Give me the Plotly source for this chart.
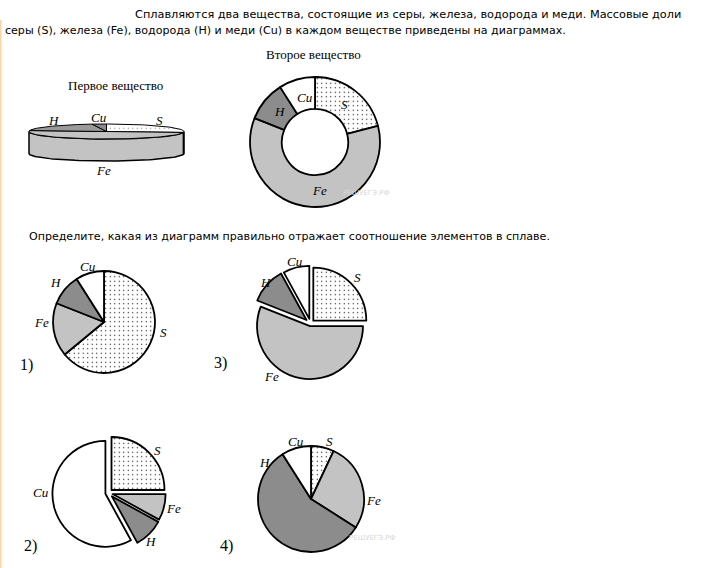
import math
import plotly.graph_objects as go

W, H = 705, 568

# ---- data ----
elements = ["S", "Fe", "H", "Cu"]
first_substance = [27, 50, 20, 3]        # 3D disc
second_substance = [21, 60, 10, 9]       # donut
option1 = [64, 17, 10, 9]
option2 = [25, 8, 9, 58]
option3 = [25, 56, 11, 8]
option4 = [7, 27, 57, 9]

text_line1 = "Сплавляются два вещества, состоящие из серы, железа, водорода и меди. Массовые доли"
text_line2 = "серы (S), железа (Fe), водорода (H) и меди (Cu) в каждом веществе приведены на диаграммах."
text_line3 = "Определите, какая из диаграмм правильно отражает соотношение элементов в сплаве."
title_first = "Первое вещество"
title_second = "Второе вещество"
option_labels = ["1)", "2)", "3)", "4)"]

# ---- styles ----
FILL = {"S": "white", "Fe": "#c3c3c3", "H": "#8c8c8c", "Cu": "white"}
PAT = {"S": ".", "Fe": "", "H": "", "Cu": ""}
FILL_DISC = {"S": "white", "Fe": "#c3c3c3", "H": "#9a9a9a", "Cu": "#8a8a8a"}
DOT = dict(fgcolor="black", size=4.5, solidity=0.06)

fig = go.Figure()


def pie(values, cx, cy, r, pull=None, hole=0.0):
    pull = pull or [0.0] * len(values)
    R = r * (1 + max(pull))
    fig.add_trace(go.Pie(
        labels=elements, values=values, sort=False, direction="clockwise",
        rotation=0, hole=hole, pull=pull,
        textinfo="none", hoverinfo="label+percent", showlegend=False,
        marker=dict(colors=[FILL[e] for e in elements],
                    line=dict(color="black", width=1.8),
                    pattern=dict(shape=[PAT[e] for e in elements], **DOT)),
        domain=dict(x=[(cx - R) / W, (cx + R) / W],
                    y=[1 - (cy + R) / H, 1 - (cy - R) / H]),
    ))


pie(second_substance, 315, 142, 65, hole=0.51)
pie(option1, 104, 322, 51)
pie(option3, 310.5, 323.5, 53, pull=[0.075, 0.05, 0.1, 0.09])
pie(option2, 108.5, 493, 53, pull=[0.08, 0.08, 0.09, 0.06])
pie(option4, 311, 499, 53)

# ---- 3D disc (first substance), drawn from the values ----
cx, cy, a, b, depth = 106.5, 131.5, 77.5, 7.5, 22


def pt(theta, dy=0.0):
    t = math.radians(theta)
    return cx + a * math.sin(t), cy - b * math.cos(t) + dy


total = sum(first_substance)
bounds = []
acc = 0.0
for v in first_substance:
    bounds.append((acc / total * 360, (acc + v) / total * 360))
    acc += v


def poly_trace(poly, e, lw):
    fig.add_trace(go.Scatter(
        x=[p[0] for p in poly], y=[p[1] for p in poly], mode="lines",
        fill="toself", fillcolor=FILL_DISC[e], line=dict(color="black", width=lw),
        fillpattern=dict(shape=PAT[e], bgcolor=FILL_DISC[e], **DOT) if PAT[e] else None,
        hoverinfo="skip", showlegend=False, xaxis="x", yaxis="y"))


# side wall (front half: theta 90..270)
for e, (t0, t1) in zip(elements, bounds):
    s0, s1 = max(t0, 90), min(t1, 270)
    if s1 <= s0:
        continue
    n = 60
    ts = [s0 + (s1 - s0) * i / n for i in range(n + 1)]
    top = [pt(t) for t in ts]
    bot = [pt(t, depth) for t in reversed(ts)]
    poly_trace(top + bot + [top[0]], e, 1.5)

# top face slices
for e, (t0, t1) in zip(elements, bounds):
    n = 60
    ts = [t0 + (t1 - t0) * i / n for i in range(n + 1)]
    poly_trace([(cx, cy)] + [pt(t) for t in ts] + [(cx, cy)], e, 1.0)

# ---- annotations ----
ann = []


def txt(x, y, s, size=13, family="Liberation Serif", italic=False, xanchor="center", color="black"):
    ann.append(dict(x=x, y=y, xref="x", yref="y", text=(f"<i>{s}</i>" if italic else s),
                    showarrow=False, xanchor=xanchor, yanchor="middle",
                    font=dict(family=family, size=size, color=color)))


txt(133, 14, text_line1, size=11.3, family="DejaVu Sans", xanchor="left")
txt(3, 30, text_line2, size=11.05, family="DejaVu Sans", xanchor="left")
txt(27, 236, text_line3, size=11.05, family="DejaVu Sans", xanchor="left")
txt(313, 54, title_second, size=13)
txt(115, 85, title_first, size=13)

# disc labels
txt(53, 120, "H", italic=True)
txt(99, 117, "Cu", italic=True)
txt(159, 120, "S", italic=True)
txt(103, 170, "Fe", italic=True)
# donut labels
txt(344, 104, "S", italic=True)
txt(305, 97, "Cu", italic=True)
txt(279, 111, "H", italic=True)
txt(319, 190, "Fe", italic=True)
# option 1
txt(88, 266, "Cu", italic=True)
txt(55, 282, "H", italic=True)
txt(41, 322, "Fe", italic=True)
txt(163, 332, "S", italic=True)
# option 3
txt(295, 261, "Cu", italic=True)
txt(265, 282, "H", italic=True)
txt(357, 277, "S", italic=True)
txt(271, 376, "Fe", italic=True)
# option 2
txt(157, 450, "S", italic=True)
txt(173, 508, "Fe", italic=True)
txt(150, 541, "H", italic=True)
txt(41, 492, "Cu", italic=True)
# option 4
txt(296, 441, "Cu", italic=True)
txt(329, 441, "S", italic=True)
txt(373, 500, "Fe", italic=True)
txt(264, 462, "H", italic=True)
# option numbers
txt(26, 365, option_labels[0], size=16)
txt(30, 546, option_labels[1], size=16)
txt(220, 363, option_labels[2], size=16)
txt(226, 546, option_labels[3], size=16)
# faint watermarks
txt(366, 193, "РЕШУЕГЭ.РФ", size=7, family="DejaVu Sans", color="#d8d8d8")
txt(372, 538, "РЕШУЕГЭ.РФ", size=7, family="DejaVu Sans", color="#d8d8d8")

fig.update_layout(
    width=W, height=H, margin=dict(l=0, r=0, t=0, b=0),
    paper_bgcolor="white", plot_bgcolor="rgba(0,0,0,0)",
    xaxis=dict(range=[0, W], domain=[0, 1], visible=False, fixedrange=True),
    yaxis=dict(range=[H, 0], domain=[0, 1], visible=False, fixedrange=True),
    annotations=ann,
    shapes=[dict(type="line", xref="x", yref="y", x0=0.8, x1=0.8, y0=20, y1=H,
                 line=dict(color="#fbd7a6", width=1.6))],
)

fig.write_html("out.html")
